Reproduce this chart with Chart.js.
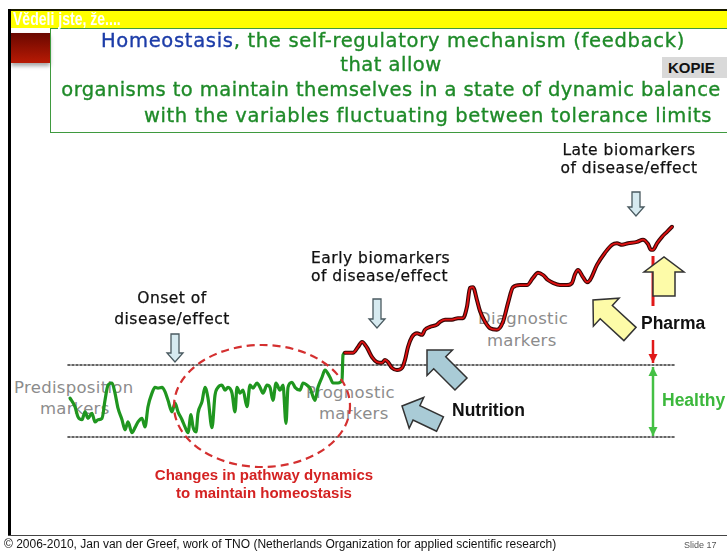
<!DOCTYPE html>
<html>
<head>
<meta charset="utf-8">
<script src="https://cdn.jsdelivr.net/npm/chart.js@4.4.1/dist/chart.umd.min.js"></script>
<style>
  html, body { margin: 0; padding: 0; background: #fff; }
  #page { position: relative; width: 727px; height: 551px; overflow: hidden; background: #fff; }
  .abs { position: absolute; white-space: nowrap; }
  .c { transform: translateX(-50%); }
  .comic { font-family: "DejaVu Sans", sans-serif; }
  .head { font-size: 19.5px; line-height: 24px; color: #1e8a28; z-index: 3; -webkit-text-stroke: 0.35px currentColor; }
  .note { font-size: 15.5px; line-height: 18px; color: #111; z-index: 3; letter-spacing: 0.5px; -webkit-text-stroke: 0.25px currentColor; }
  .gray { font-size: 16.5px; line-height: 21px; color: #8c8c8c; z-index: 1; letter-spacing: 0.3px; }
  .bold { font-family: "Liberation Sans", Arial, sans-serif; font-weight: bold; z-index: 3; }
  #chart { position: absolute; left: 0; top: 0; z-index: 2; }
</style>
</head>
<body>
<div id="page">
  <!-- slide frame -->
  <div class="abs" style="left:8px;top:9px;width:719px;height:2px;background:#1a1a00;"></div>
  <div class="abs" style="left:8px;top:9px;width:3px;height:527px;background:#000;"></div>
  <div class="abs" style="left:8px;top:535px;width:719px;height:1px;background:#444;"></div>
  <div class="abs" style="left:11px;top:11px;width:716px;height:17px;background:#ffff00;"></div>
  <div class="abs bold" style="left:13px;top:8px;font-size:18px;line-height:22px;color:#fff;z-index:4;transform:scaleX(0.78);transform-origin:left top;">Vědeli jste, že....</div>
  <div class="abs" style="left:11px;top:33px;width:39px;height:30px;background:linear-gradient(#6a0800,#b81a04);box-shadow:0 3px 4px rgba(0,0,0,0.35);"></div>
  <div class="abs" style="left:50px;top:28px;width:690px;height:103px;border:1px solid #3f9a3f;"></div>
  <div class="abs bold" style="left:662px;top:57px;width:70px;height:21px;background:#d9d9d9;font-size:15px;line-height:21px;color:#111;padding-left:6px;">KOPIE</div>

  <!-- header text -->
  <div class="abs comic head c" style="left:393px;top:29px;letter-spacing:0.7px;"><span style="color:#1c3ca8;">Homeostasis</span>, the self-regulatory mechanism (feedback)</div>
  <div class="abs comic head c" style="left:391px;top:53px;letter-spacing:0.5px;">that allow</div>
  <div class="abs comic head c" style="left:391px;top:78px;letter-spacing:0.43px;">organisms to maintain themselves in a state of dynamic balance</div>
  <div class="abs comic head c" style="left:428px;top:104px;letter-spacing:0.62px;">with the variables fluctuating between tolerance limits</div>

  <!-- annotations -->
  <div class="abs comic note c" style="left:172px;top:289px;">Onset of</div>
  <div class="abs comic note c" style="left:172px;top:310px;">disease/effect</div>
  <div class="abs comic note" style="left:311px;top:249px;">Early biomarkers</div>
  <div class="abs comic note" style="left:311px;top:267px;">of disease/effect</div>
  <div class="abs comic note c" style="left:629px;top:141px;">Late biomarkers</div>
  <div class="abs comic note c" style="left:629px;top:159px;">of disease/effect</div>

  <div class="abs comic gray" style="left:14px;top:377px;">Predisposition</div>
  <div class="abs comic gray" style="left:40px;top:398px;">markers</div>
  <div class="abs comic gray" style="left:306px;top:382px;">Prognostic</div>
  <div class="abs comic gray" style="left:319px;top:403px;">markers</div>
  <div class="abs comic gray" style="left:478px;top:308px;">Diagnostic</div>
  <div class="abs comic gray" style="left:487px;top:330px;">markers</div>

  <div class="abs bold" style="left:452px;top:399px;font-size:17.5px;line-height:22px;color:#111;">Nutrition</div>
  <div class="abs bold" style="left:641px;top:312px;font-size:17.5px;line-height:22px;color:#111;">Pharma</div>
  <div class="abs bold" style="left:662px;top:389px;font-size:17.5px;line-height:22px;color:#3cb83c;">Healthy</div>
  <div class="abs bold c" style="left:264px;top:466px;font-size:15px;line-height:18px;color:#d42222;">Changes in pathway dynamics</div>
  <div class="abs bold c" style="left:264px;top:484px;font-size:15px;line-height:18px;color:#d42222;">to maintain homeostasis</div>

  <div class="abs" style="left:4px;top:537px;font-family:'Liberation Sans',Arial,sans-serif;font-size:12px;line-height:15px;color:#111;z-index:3;">© 2006-2010, Jan van der Greef, work of TNO (Netherlands Organization for applied scientific research)</div>
  <div class="abs" style="left:684px;top:540px;font-family:'Liberation Sans',Arial,sans-serif;font-size:9px;line-height:11px;color:#555;z-index:3;">Slide 17</div>

  <canvas id="chart" width="727" height="551"></canvas>
</div>
<script>
// time (x) and level (y) of the measured variable; 0 and 10 are the tolerance limits
const greenT = [0, 5, 8, 12, 15, 18, 22, 25, 28, 32, 35, 38, 42, 45, 48, 52, 55, 58, 62, 65,
  68, 72, 75, 78, 82, 85, 88, 92, 95, 98, 102, 105, 108, 112, 115, 118, 121, 123, 126, 128,
  132, 135, 138, 142, 145, 148, 152, 155, 158, 162, 165, 167, 170, 173, 177, 180, 183, 187, 190, 193,
  197, 200, 203, 206, 210, 213, 216, 218, 222, 225, 230, 233, 237, 240, 245, 248, 252, 255, 260, 263,
  268, 272, 273, 275];
const greenV = [5.4, 4.2, 2.8, 2.4, 3.5, 2.6, 3.3, 2.1, 2.4, 2.6, 5.1, 7.2, 7.5, 6.1, 4.0, 2.4, 1.0, 2.1, 0.6, 1.3,
  2.1, 2.6, 1.4, 4.2, 6.1, 6.9, 6.8, 6.9, 6.3, 5.1, 3.5, 4.7, 3.5, 2.4, 1.4, 0.6, 3.1, 1.4, 0.7, 3.3,
  4.9, 6.9, 5.4, 1.3, 5.8, 6.9, 7.2, 6.5, 6.9, 6.1, 3.5, 6.9, 6.1, 6.5, 4.2, 7.2, 6.8, 7.5, 6.9, 6.1,
  7.2, 6.9, 5.1, 7.5, 6.5, 7.2, 1.9, 6.9, 7.6, 6.9, 6.5, 7.5, 7.2, 6.8, 5.1, 6.9, 8.3, 9.3, 8.3, 7.5,
  7.5, 7.9, 11.4, 11.7];
const redT = [275, 283, 288, 292, 297, 302, 307, 312, 315, 318, 322, 327, 332, 335, 338, 342, 347, 352, 355, 360,
  367, 370, 375, 382, 388, 393, 397, 400, 403, 407, 410, 415, 420, 427, 433, 438, 443, 450, 457, 463,
  468, 473, 478, 483, 490, 497, 502, 505, 508, 513, 517, 520, 527, 535, 542, 547, 552, 558, 567, 573,
  578, 581, 583, 587, 592, 597, 602];
const redV = [11.7, 11.7, 12.5, 13.2, 12.4, 11.1, 10.4, 10.3, 10.7, 10.4, 9.6, 9.3, 9.6, 10.7, 12.5, 13.9, 14.4, 14.2, 14.9, 15.3,
  15.6, 16.0, 16.3, 16.3, 16.5, 16.5, 18.1, 20.7, 20.8, 19.0, 17.5, 16.0, 15.1, 14.9, 16.0, 18.6, 20.8, 21.1, 21.1, 22.1,
  22.8, 22.5, 21.8, 21.4, 21.1, 21.1, 21.4, 22.6, 23.2, 22.2, 21.5, 21.8, 23.9, 25.6, 26.7, 26.9, 26.7, 26.9, 27.1, 27.4,
  26.8, 26.0, 26.0, 26.9, 27.8, 28.5, 29.2];
const limitT = [-2, 605];
const lowerLimit = [0, 0];
const upperLimit = [10, 10];

const pts = (xs, ys) => xs.map((x, i) => ({ x, y: ys[i] }));

function hollowDown(ctx, cx, top, bottom) {
  const sw = 4, hw = 8, hl = 9;
  ctx.beginPath();
  ctx.moveTo(cx - sw, top);
  ctx.lineTo(cx + sw, top);
  ctx.lineTo(cx + sw, bottom - hl);
  ctx.lineTo(cx + hw, bottom - hl);
  ctx.lineTo(cx, bottom);
  ctx.lineTo(cx - hw, bottom - hl);
  ctx.lineTo(cx - sw, bottom - hl);
  ctx.closePath();
  ctx.fillStyle = '#d6eaf0';
  ctx.fill();
  ctx.lineWidth = 1.3;
  ctx.strokeStyle = '#4a5a60';
  ctx.stroke();
}

function blockArrow(ctx, tx, ty, hx, hy, sw, hw, hl, fill) {
  const len = Math.hypot(hx - tx, hy - ty);
  ctx.save();
  ctx.translate(tx, ty);
  ctx.rotate(Math.atan2(hy - ty, hx - tx));
  ctx.beginPath();
  ctx.moveTo(0, -sw / 2);
  ctx.lineTo(len - hl, -sw / 2);
  ctx.lineTo(len - hl, -hw / 2);
  ctx.lineTo(len, 0);
  ctx.lineTo(len - hl, hw / 2);
  ctx.lineTo(len - hl, sw / 2);
  ctx.lineTo(0, sw / 2);
  ctx.closePath();
  ctx.fillStyle = fill;
  ctx.fill();
  ctx.lineWidth = 1.5;
  ctx.strokeStyle = '#333';
  ctx.stroke();
  ctx.restore();
}

function lineArrow(ctx, x, y1, y2, color, heads) {
  ctx.save();
  ctx.strokeStyle = color;
  ctx.fillStyle = color;
  ctx.lineWidth = 2.5;
  ctx.beginPath();
  ctx.moveTo(x, y1);
  ctx.lineTo(x, y2);
  ctx.stroke();
  heads.forEach(([yy, dir]) => {
    ctx.beginPath();
    ctx.moveTo(x, yy);
    ctx.lineTo(x - 4.5, yy - dir * 9);
    ctx.lineTo(x + 4.5, yy - dir * 9);
    ctx.closePath();
    ctx.fill();
  });
  ctx.restore();
}

const decorations = {
  id: 'decorations',
  beforeDatasetsDraw(chart) {
    const ctx = chart.ctx;
    // red line behind the upward pharma arrow
    ctx.save();
    ctx.strokeStyle = '#e01818';
    ctx.lineWidth = 3;
    ctx.beginPath();
    ctx.moveTo(653, 256);
    ctx.lineTo(653, 306);
    ctx.stroke();
    ctx.restore();
  },
  afterDatasetsDraw(chart) {
    const ctx = chart.ctx;
    // dashed ellipse around the homeostatic fluctuations
    ctx.save();
    ctx.strokeStyle = '#d43030';
    ctx.lineWidth = 2.2;
    ctx.setLineDash([8, 5]);
    ctx.beginPath();
    ctx.ellipse(262, 406, 88, 61, 0, 0, Math.PI * 2);
    ctx.stroke();
    ctx.restore();

    hollowDown(ctx, 175, 334, 362);
    hollowDown(ctx, 377, 299, 328);
    hollowDown(ctx, 636, 192, 216);

    blockArrow(ctx, 461, 384, 427, 350, 17, 36, 18, '#a9cbd6');
    blockArrow(ctx, 440, 424, 402, 406, 16, 34, 16, '#a9cbd6');
    blockArrow(ctx, 630, 334, 593, 300, 18, 38, 18, '#fdfba8');
    blockArrow(ctx, 664, 296, 664, 257, 22, 40, 15, '#fdfba8');

    lineArrow(ctx, 653, 340, 363, '#e01818', [[363, 1]]);
    lineArrow(ctx, 653, 367, 436, '#44c044', [[367, -1], [436, 1]]);
  }
};

new Chart(document.getElementById('chart'), {
  type: 'line',
  data: {
    datasets: [
      { data: pts(redT, redV), borderColor: '#e01010', borderWidth: 1.8, order: 1 },
      { data: pts(redT, redV), borderColor: '#3a0606', borderWidth: 4, order: 2 },
      { data: pts(greenT, greenV), borderColor: '#1f961f', borderWidth: 3.2, order: 3 },
      { data: pts(limitT, upperLimit), borderColor: '#333', borderWidth: 1.6, borderDash: [2, 2], order: 4 },
      { data: pts(limitT, lowerLimit), borderColor: '#333', borderWidth: 1.6, borderDash: [2, 2], order: 5 }
    ]
  },
  options: {
    responsive: false,
    animation: false,
    devicePixelRatio: 1,
    layout: { padding: { left: 70, right: 52, top: 141.8, bottom: 20.4 } },
    elements: {
      point: { radius: 0 },
      line: { cubicInterpolationMode: 'monotone', borderCapStyle: 'round', borderJoinStyle: 'round' }
    },
    scales: {
      x: { type: 'linear', min: 0, max: 605, display: false },
      y: { min: -13, max: 41, display: false }
    },
    plugins: { legend: { display: false }, tooltip: { enabled: false } },
    clip: false
  },
  plugins: [decorations]
});
</script>
</body>
</html>
